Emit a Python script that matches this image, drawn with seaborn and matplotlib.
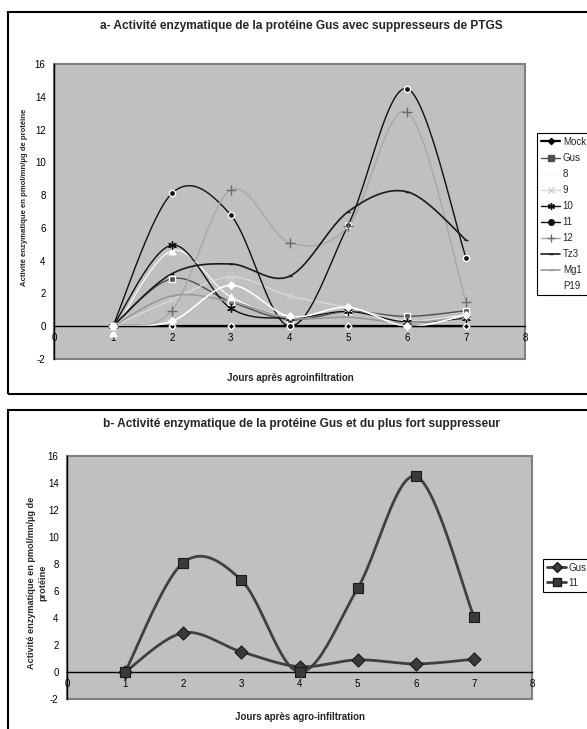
import numpy as np
import seaborn as sns
import matplotlib.pyplot as plt
from matplotlib.lines import Line2D
from matplotlib.patches import Rectangle

# Valeurs (jours après agroinfiltration)
jours = [1, 2, 3, 4, 5, 6, 7]

mock = [0, 0, 0, 0, 0, 0, 0]
gus = [0, 2.9, 1.5, 0.4, 0.9, 0.6, 0.95]
s8 = [-0.4, 4.6, 1.8, 0.6, 0.9, 0.3, 0.7]
s9 = [0, 1.6, 3.0, 1.85, 1.15, 0.35, 0.6]
s10 = [0, 4.95, 1.1, 0.5, 0.9, 0.25, 0.5]
s11 = [0, 8.1, 6.8, 0, 6.2, 14.5, 4.15]
s12 = [0, 0.95, 8.3, 5.1, 6.1, 13.05, 1.45]
tz3 = [0, 3.2, 3.8, 3.05, 7.0, 8.2, 5.25]
mg1 = [0, 1.85, 1.5, 0.5, 0.55, 0.2, 0.6]
p19 = [0, 0.3, 2.5, 0.6, 1.15, 0, 0.7]

noms_a = ["Mock", "Gus", "8", "9", "10", "11", "12", "Tz3", "Mg1", "P19"]
series_a = [mock, gus, s8, s9, s10, s11, s12, tz3, mg1, p19]

gus_b = [0, 2.9, 1.5, 0.4, 0.9, 0.6, 0.95]
s11_b = [0, 8.1, 6.8, 0, 6.2, 14.5, 4.1]

# style: (couleur ligne, marqueur, couleur marqueur, taille, épaisseur)
styles_a = {
    "Mock": ("black", "D", "black", 12, 1.6),
    "Gus": ("#505050", "s", "#505050", 18, 1.0),
    "8": ("#f4f4f4", "^", "white", 22, 1.0),
    "9": ("#d8d8d8", "x", "#d0d0d0", 20, 1.0),
    "10": ("#111111", (6, 2, 0), "#111111", 30, 1.0),
    "11": ("#111111", "o", "#111111", 20, 1.0),
    "12": ("#a8a8a8", "+", "#6a6a6a", 45, 1.0),
    "Tz3": ("#1a1a1a", "_", "#1a1a1a", 12, 1.2),
    "Mg1": ("#9a9a9a", "_", "#9a9a9a", 12, 1.2),
    "P19": ("white", "D", "white", 14, 1.2),
}


def lisse(x, y, n=25):
    # courbe lissée façon Excel (Bézier / Catmull-Rom)
    x = np.asarray(x, float)
    y = np.asarray(y, float)
    px = np.concatenate([[x[0]], x, [x[-1]]])
    py = np.concatenate([[y[0]], y, [y[-1]]])
    xs, ys = [], []
    for i in range(len(x) - 1):
        p0 = np.array([px[i], py[i]])
        p1 = np.array([px[i + 1], py[i + 1]])
        p2 = np.array([px[i + 2], py[i + 2]])
        p3 = np.array([px[i + 3], py[i + 3]])
        c1 = p1 + (p2 - p0) / 6
        c2 = p2 - (p3 - p1) / 6
        t = np.linspace(0, 1, n, endpoint=(i == len(x) - 2))[:, None]
        b = ((1 - t) ** 3) * p1 + 3 * ((1 - t) ** 2) * t * c1 \
            + 3 * (1 - t) * t ** 2 * c2 + t ** 3 * p2
        xs.extend(b[:, 0])
        ys.extend(b[:, 1])
    return np.array(xs), np.array(ys)


def axe(ax):
    ax.set_facecolor("#c0c0c0")
    ax.set_xlim(0, 8)
    ax.set_ylim(-2, 16)
    ax.set_xticks(range(0, 9))
    ax.set_yticks(range(-2, 17, 2))
    for s in ["top", "right"]:
        ax.spines[s].set_visible(False)
    ax.spines["bottom"].set_position(("data", 0))
    ax.spines["bottom"].set_color("black")
    ax.spines["left"].set_color("black")
    ax.spines["bottom"].set_linewidth(1)
    ax.spines["left"].set_linewidth(1)
    ax.add_patch(Rectangle((0, 0), 1, 1, transform=ax.transAxes, fill=False,
                           ec="#808080", lw=1.5, clip_on=False, zorder=0.5))
    ax.tick_params(axis="y", direction="out", length=4, width=0.8,
                   labelsize=7, pad=2, colors="black")
    ax.tick_params(axis="x", direction="out", length=2, width=0.8,
                   labelsize=7, pad=3, colors="black")
    ax.grid(False)
    ax.set_xlabel("")
    ax.set_ylabel("")


sns.set_style("white")
plt.rcParams["font.family"] = ["Liberation Sans", "DejaVu Sans"]
plt.rcParams["axes.unicode_minus"] = False

W, H = 587, 729
fig = plt.figure(figsize=(W / 100, H / 100), dpi=100)

# cadres des deux graphiques
fig.add_artist(Rectangle((8 / W, 1 - 394 / H), 1.0, (394 - 12) / H,
                         transform=fig.transFigure, fill=False, ec="black", lw=1.5))
fig.add_artist(Rectangle((8 / W, -0.05), 1.0, 0.05 + (729 - 410) / H,
                         transform=fig.transFigure, fill=False, ec="black", lw=1.5))

# ---- graphique a ----
ax1 = fig.add_axes([54 / W, 1 - 359 / H, 471 / W, 295 / H])
axe(ax1)
handles = []
for nom, vals in zip(noms_a, series_a):
    lc, mk, mc, ms, lw = styles_a[nom]
    xs, ys = lisse(jours, vals)
    sns.lineplot(x=xs, y=ys, ax=ax1, color=lc, linewidth=lw, sort=False,
                 estimator=None, zorder=2)
    sns.scatterplot(x=jours, y=vals, ax=ax1, marker=mk, color=mc, s=ms,
                    linewidth=1, zorder=3, legend=False)
    handles.append(Line2D([], [], color=lc, lw=lw, marker=mk, mfc=mc, mec=mc,
                          ms=np.sqrt(ms) * 0.9, label=nom))
ax1.legend(handles=handles, loc="upper left", bbox_to_anchor=(537 / W, 1 - 133 / H),
           bbox_transform=fig.transFigure, frameon=True, fancybox=False,
           edgecolor="black", facecolor="white", framealpha=1, fontsize=7,
           handlelength=2.0, labelspacing=0.62, borderpad=0.4, handletextpad=0.25,
           borderaxespad=0)
ax1.legend_.get_frame().set_linewidth(0.8)
fig.text(301 / W, 1 - 26 / H,
         "a- Activité enzymatique de la protéine Gus avec suppresseurs de PTGS",
         ha="center", va="center", fontsize=8.6, fontweight="bold")
fig.text(290 / W, 1 - 378 / H, "Jours après agroinfiltration",
         ha="center", va="center", fontsize=7, fontweight="bold")
fig.text(25 / W, 1 - 197 / H, "Activité enzymatique en pmol/mn/µg de protéine",
         ha="center", va="center", rotation=90, fontsize=5.6, fontweight="bold")

# ---- graphique b ----
ax2 = fig.add_axes([67 / W, 1 - 699 / H, 465 / W, 243 / H])
axe(ax2)
h2 = []
for nom, vals, mk, ms in [("Gus", gus_b, "D", 45), ("11", s11_b, "s", 60)]:
    xs, ys = lisse(jours, vals)
    sns.lineplot(x=xs, y=ys, ax=ax2, color="#404040", linewidth=2, sort=False,
                 estimator=None, zorder=2)
    sns.scatterplot(x=jours, y=vals, ax=ax2, marker=mk, color="#3a3a3a", s=ms,
                    edgecolor="#1a1a1a", linewidth=0.8, zorder=3, legend=False)
    h2.append(Line2D([], [], color="#404040", lw=2, marker=mk, mfc="#3a3a3a",
                     mec="#1a1a1a", ms=5.5, label=nom))
ax2.legend(handles=h2, loc="upper left", bbox_to_anchor=(543 / W, 1 - 559 / H),
           bbox_transform=fig.transFigure, frameon=True, fancybox=False,
           edgecolor="black", facecolor="white", framealpha=1, fontsize=7,
           handlelength=2.0, labelspacing=0.5, borderpad=0.4, handletextpad=0.25,
           borderaxespad=0)
ax2.legend_.get_frame().set_linewidth(0.8)
fig.text(301 / W, 1 - 424 / H,
         "b- Activité enzymatique de la protéine Gus et du plus fort suppresseur",
         ha="center", va="center", fontsize=8.6, fontweight="bold")
fig.text(300 / W, 1 - 717 / H, "Jours après agro-infiltration",
         ha="center", va="center", fontsize=7, fontweight="bold")
fig.text(37 / W, 1 - 583 / H, "Activité enzymatique en pmol/mn/µg de\nprotéine",
         ha="center", va="center", rotation=90, fontsize=6.6, fontweight="bold",
         linespacing=1.3)

fig.savefig("out.png", dpi=100)
